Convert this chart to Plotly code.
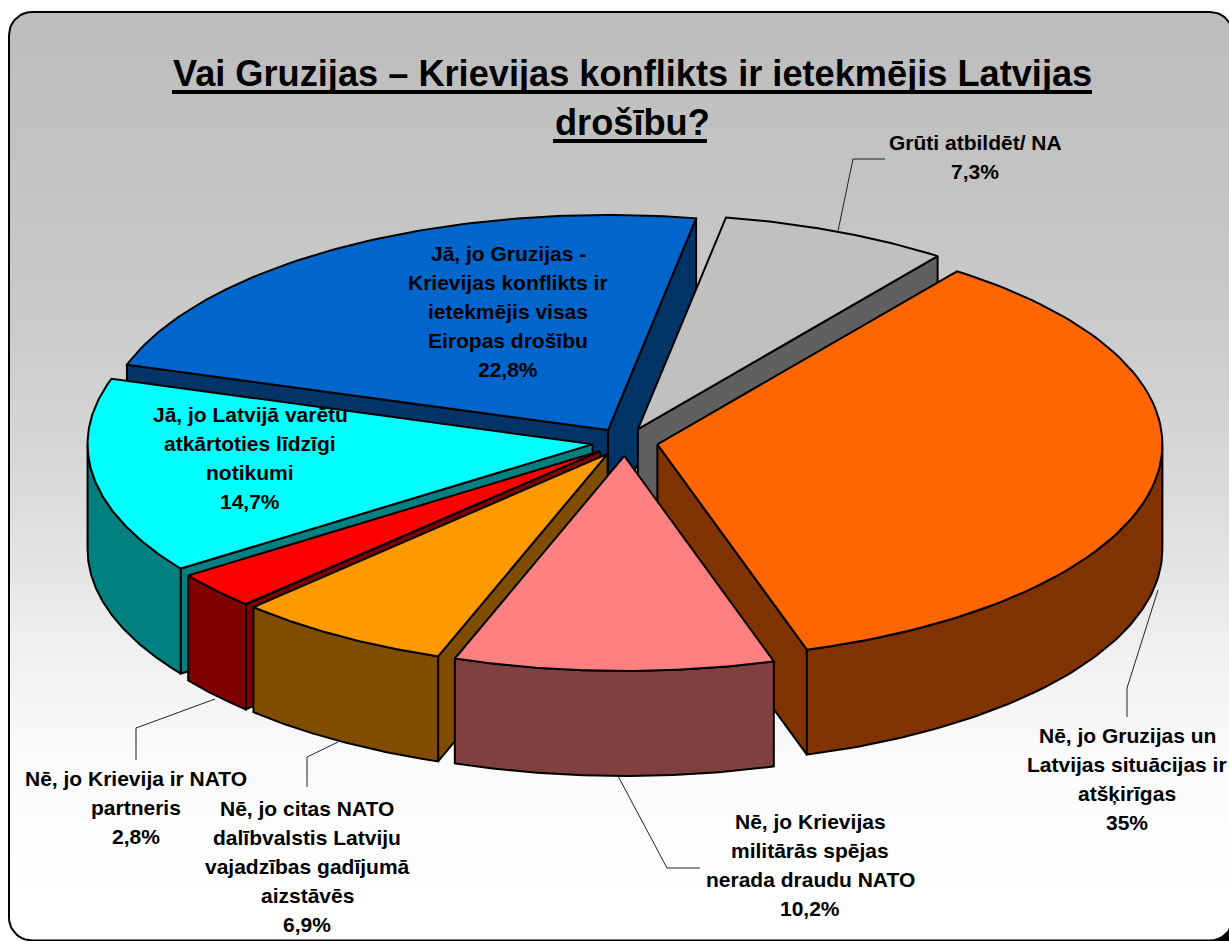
import numpy as np
import plotly.graph_objects as go

# ---- data (clockwise from the upper right) ----
categories = [
    "Nē, jo Gruzijas un Latvijas situācijas ir atšķirīgas",
    "Nē, jo Krievijas militārās spējas nerada draudu NATO",
    "Nē, jo citas NATO dalībvalstis Latviju vajadzības gadījumā aizstāvēs",
    "Nē, jo Krievija ir NATO partneris",
    "Jā, jo Latvijā varētu atkārtoties līdzīgi notikumi",
    "Jā, jo Gruzijas - Krievijas konflikts ir ietekmējis visas Eiropas drošību",
    "Grūti atbildēt/ NA",
]
values = [35.0, 10.2, 6.9, 2.8, 14.7, 22.8, 7.3]
top_colors = ["#FF6600", "#FF8080", "#FF9900", "#FF0000", "#00FFFF", "#0066CC", "#C0C0C0"]
wall_colors = ["#803300", "#804040", "#804D00", "#800000", "#008080", "#003366", "#606060"]
paint_order = [5, 6, 4, 3, 2, 0, 1]

title_lines = ["Vai Gruzijas – Krievijas konflikts ir ietekmējis Latvijas", "drošību?"]
label_lines = [
    ["Nē, jo Gruzijas un", "Latvijas situācijas ir", "atšķirīgas", "35%"],
    ["Nē, jo Krievijas", "militārās spējas", "nerada draudu NATO", "10,2%"],
    ["Nē, jo citas NATO", "dalībvalstis Latviju", "vajadzības gadījumā", "aizstāvēs", "6,9%"],
    ["Nē, jo Krievija ir NATO", "partneris", "2,8%"],
    ["Jā, jo Latvijā varētu", "atkārtoties līdzīgi", "notikumi", "14,7%"],
    ["Jā, jo Gruzijas -", "Krievijas konflikts ir", "ietekmējis visas", "Eiropas drošību", "22,8%"],
    ["Grūti atbildēt/ NA", "7,3%"],
]

# ---- layout of the drawing, in pixels ----
W, H = 1229, 941
CX, CY, RX, RY, DEPTH, PULL = 625, 442, 505, 215, 105, 0.065
START = 36.4
label_x = [1127, 810, 307, 136, 250, 508, 975]
label_y = [735, 821, 808, 778, 414, 253, 142]
LINE_STEP = 29.2
leaders = [
    ([1158, 1127, 1127], [590, 688, 717]),
    ([618, 667, 700], [776, 868, 868]),
    ([338, 307, 307], [742, 757, 787]),
    ([215, 136, 136], [699, 728, 760]),
    ([838, 853, 885], [231, 159, 159]),
]
underlines = [([172, 1092], [92, 92]), ([553, 707], [141, 141])]
gradient_y = [12, 150, 300, 450, 550, 650, 750, 850, 940]
gradient_grey = [189, 194, 201, 214, 226, 240, 250, 254, 255]

fig = go.Figure()


def poly(xs, ys, fill, **kw):
    fig.add_trace(go.Scatter(x=list(xs), y=list(ys), mode="lines", fill="toself", fillcolor=fill,
                             line=dict(color="black", width=2), hoverinfo="skip", showlegend=False, **kw))


# rounded panel with the vertical gradient
BX0, BY0, BX1, BY1, BR = 9, 12, 1233, 940.5, 23
corner = np.radians(np.linspace(0, 90, 16))
bx = np.concatenate([BX0 + BR - BR * np.cos(corner), BX1 - BR + BR * np.sin(corner),
                     BX1 - BR + BR * np.cos(corner), BX0 + BR - BR * np.sin(corner), [BX0]])
by = np.concatenate([BY0 + BR - BR * np.sin(corner), BY0 + BR - BR * np.cos(corner),
                     BY1 - BR + BR * np.sin(corner), BY1 - BR + BR * np.cos(corner), [BY0 + BR]])
gradient = [[(y - BY0) / (gradient_y[-1] - BY0), f"rgb({g},{g},{g})"] for y, g in zip(gradient_y, gradient_grey)]
fig.add_trace(go.Scatter(x=bx, y=by, mode="lines", fill="toself", hoverinfo="skip", showlegend=False,
                         line=dict(color="black", width=2),
                         fillgradient=dict(type="vertical", start=BY0, stop=gradient_y[-1], colorscale=gradient)))

# exploded, tilted pie: every slice comes from its share of the values
total = sum(values)
edges = START + np.cumsum([0] + values) * 360.0 / total


def on_rim(a, ox, oy, dz=0.0):
    r = np.radians(a)
    return ox + RX * np.sin(r), oy - RY * np.cos(r) + dz


for i in paint_order:
    a0, a1 = edges[i], edges[i + 1]
    mid = np.radians((a0 + a1) / 2)
    ox = CX + PULL * RX * np.sin(mid)
    oy = CY - PULL * RY * np.cos(mid)
    for a, seen in ((a0, np.sin(np.radians(a0)) < 0), (a1, np.sin(np.radians(a1)) > 0)):
        if seen:
            ex, ey = on_rim(a, ox, oy)
            poly([ox, ex, ex, ox, ox], [oy, ey, ey + DEPTH, oy + DEPTH, oy], wall_colors[i])
    w0, w1 = max(a0, 90), min(a1, 270)
    if w0 < w1:
        t = np.linspace(w0, w1, 70)
        ux, uy = on_rim(t, ox, oy)
        poly(np.r_[ux, ux[::-1], ux[0]], np.r_[uy, uy[::-1] + DEPTH, uy[0]], wall_colors[i])
    t = np.linspace(a0, a1, 90)
    ux, uy = on_rim(t, ox, oy)
    poly(np.r_[ox, ux, ox], np.r_[oy, uy, oy], top_colors[i])

for lx, ly in leaders:
    fig.add_trace(go.Scatter(x=lx, y=ly, mode="lines", line=dict(color="#222222", width=1),
                             hoverinfo="skip", showlegend=False))
for lx, ly in underlines:
    fig.add_trace(go.Scatter(x=lx, y=ly, mode="lines", line=dict(color="black", width=4),
                             hoverinfo="skip", showlegend=False))

annotations = []
for lines, x, y in zip(label_lines, label_x, label_y):
    for k, line in enumerate(lines):
        annotations.append(dict(x=x, y=y + k * LINE_STEP, text=line, xref="x", yref="y", showarrow=False,
                                xanchor="center", yanchor="middle",
                                font=dict(family="Liberation Sans", size=21, color="black", weight="bold")))
for line, y in zip(title_lines, (73, 122)):
    annotations.append(dict(x=632, y=y, text=line, xref="x", yref="y", showarrow=False,
                            xanchor="center", yanchor="middle",
                            font=dict(family="Liberation Sans", size=36.2, color="black", weight="bold")))

fig.update_layout(
    width=W, height=H, margin=dict(l=0, r=0, t=0, b=0), paper_bgcolor="white", plot_bgcolor="white",
    showlegend=False, annotations=annotations,
    shapes=[dict(type="rect", xref="x", yref="y", x0=1205, x1=W, y0=915, y1=H, layer="below",
                 fillcolor="black", line=dict(width=0))],
    xaxis=dict(range=[0, W], visible=False, fixedrange=True),
    yaxis=dict(range=[H, 0], visible=False, fixedrange=True),
)
fig.write_html("out.html", config={"displayModeBar": False},
               post_script="document.body.style.margin='0';document.body.style.overflow='hidden';")
